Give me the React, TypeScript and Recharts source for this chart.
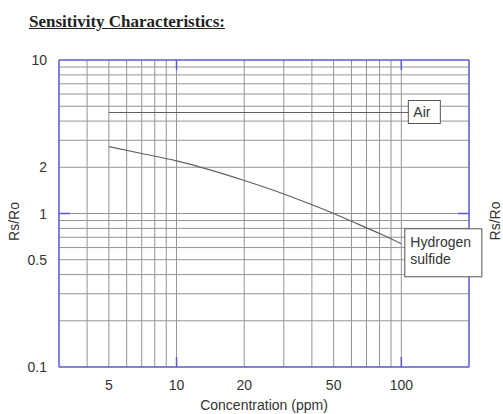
import { LineChart, Line, XAxis, YAxis, ReferenceLine, ReferenceDot } from 'recharts';

// concentration (ppm) / Rs/Ro
const AIR_X = [5, 100];
const AIR_Y = [4.55, 4.55];
const H2S_X = [5, 7, 10, 20, 30, 40, 50, 60, 80, 100];
const H2S_Y = [2.73, 2.46, 2.2, 1.64, 1.34, 1.14, 1.0, 0.89, 0.74, 0.635];

const X_TICKS = [5, 10, 20, 50, 100];
const Y_TICKS = [0.1, 0.5, 1, 2, 10];
const X_MARKS = [10, 100];
const Y_MARKS = [1];
const X_GRID = [4, 5, 6, 7, 8, 9, 10, 20, 30, 40, 50, 60, 70, 80, 90, 100];
const Y_GRID = [0.2, 0.3, 0.4, 0.5, 0.6, 0.7, 0.8, 0.9, 1, 2, 3, 4, 5, 6, 7, 8, 9];

const airData = AIR_X.map((x, i) => ({ x, y: AIR_Y[i] }));
const h2sData = H2S_X.map((x, i) => ({ x, y: H2S_Y[i] }));

const BLUE = '#5a5ad2';
const GRID = '#949494';
const CURVE = '#606060';
const TEXT = '#333';
const FONT = '"Liberation Sans", Arial, sans-serif';

const BottomTick = (p: any) => {
  const v = p.payload.value;
  return (
    <g>
      {X_MARKS.includes(v) && <line x1={p.x} x2={p.x} y1={p.y} y2={p.y - 10} stroke={BLUE} strokeWidth={1.5} />}
      <text x={p.x} y={p.y + 23} textAnchor="middle" fontSize={14} fill={TEXT} fontFamily={FONT}>{v}</text>
    </g>
  );
};

const TopTick = (p: any) => (
  <line x1={p.x} x2={p.x} y1={p.y} y2={p.y + 10} stroke={BLUE} strokeWidth={1.5} />
);

const LeftTick = (p: any) => {
  const v = p.payload.value;
  return (
    <g>
      {Y_MARKS.includes(v) && <line x1={p.x} x2={p.x + 11} y1={p.y} y2={p.y} stroke={BLUE} strokeWidth={1.5} />}
      <text x={p.x - 12} y={p.y + 5} textAnchor="end" fontSize={14} fill={TEXT} fontFamily={FONT}>{v}</text>
    </g>
  );
};

const RightTick = (p: any) => (
  <line x1={p.x} x2={p.x - 11} y1={p.y} y2={p.y} stroke={BLUE} strokeWidth={1.5} />
);

const AirBox = (p: any) => (
  <g>
    <line x1={p.cx} x2={p.cx + 7} y1={p.cy} y2={p.cy} stroke={CURVE} />
    <rect x={p.cx + 7} y={p.cy - 12} width={32} height={23} fill="#fff" stroke="#555" />
    <text x={p.cx + 12} y={p.cy + 5} fontSize={14} fill={TEXT} fontFamily={FONT}>Air</text>
  </g>
);

const H2sBox = (p: any) => (
  <g>
    <rect x={p.cx + 3.5} y={p.cy - 15} width={77} height={48} fill="#fff" stroke="#555" />
    <text x={p.cx + 9} y={p.cy + 3.5} fontSize={14} fill={TEXT} fontFamily={FONT}>Hydrogen</text>
    <text x={p.cx + 9} y={p.cy + 20.5} fontSize={14} fill={TEXT} fontFamily={FONT}>sulfide</text>
  </g>
);

export default function App() {
  const last = h2sData.length - 1;
  return (
    <div style={{ position: 'absolute', left: 0, top: 0, width: 503, height: 414, background: '#fff' }}>
      <div
        style={{
          position: 'absolute', left: 29, top: 12.5, fontFamily: '"Liberation Serif", "Times New Roman", serif',
          fontWeight: 'bold', fontSize: 17, lineHeight: '17px', color: '#222', textDecoration: 'underline',
        }}
      >
        Sensitivity Characteristics:
      </div>
      <svg width={503} height={414} style={{ position: 'absolute', left: 0, top: 0, pointerEvents: 'none' }}>
        <text
          x={500} y={221} transform="rotate(-90 500 221)" textAnchor="middle"
          fontSize={14} fill={TEXT} fontFamily={FONT}
        >Rs/Ro</text>
      </svg>
      <div style={{ position: 'absolute', left: 0, top: 0 }}>
        <LineChart width={503} height={414} margin={{ top: 30, right: 0, bottom: 0, left: 0 }}>
          <XAxis
            xAxisId="b" dataKey="x" type="number" scale="log" domain={[3, 200]} allowDataOverflow
            ticks={X_TICKS} tick={BottomTick} tickLine={false} tickSize={0} tickMargin={0} height={47}
            axisLine={{ stroke: BLUE, strokeWidth: 1.5 }}
            label={(props: any) => {
              const vb = props.viewBox || { x: 59, y: 367, width: 410 };
              return (
                <text x={vb.x + vb.width / 2} y={vb.y + 43} textAnchor="middle" fontSize={14} fill={TEXT} fontFamily={FONT}>
                  Concentration (ppm)
                </text>
              );
            }}
          />
          <XAxis
            xAxisId="t" orientation="top" dataKey="x" type="number" scale="log" domain={[3, 200]} allowDataOverflow
            ticks={X_MARKS} tick={TopTick} tickLine={false} tickSize={0} tickMargin={0} height={30}
            axisLine={{ stroke: BLUE, strokeWidth: 1.5 }}
          />
          <YAxis
            yAxisId="l" type="number" scale="log" domain={[0.1, 10]} allowDataOverflow
            ticks={Y_TICKS} tick={LeftTick} tickLine={false} tickSize={0} tickMargin={0} width={59}
            axisLine={{ stroke: BLUE, strokeWidth: 1.5 }}
            label={(props: any) => {
              const vb = props.viewBox || { x: 0, y: 60, height: 307 };
              const cy = vb.y + vb.height / 2 + 8;
              return (
                <text x={19} y={cy} transform={`rotate(-90 19 ${cy})`} textAnchor="middle" fontSize={14} fill={TEXT} fontFamily={FONT}>
                  Rs/Ro
                </text>
              );
            }}
          />
          <YAxis
            yAxisId="r" orientation="right" type="number" scale="log" domain={[0.1, 10]} allowDataOverflow
            ticks={Y_MARKS} tick={RightTick} tickLine={false} tickSize={0} tickMargin={0} width={34}
            axisLine={{ stroke: BLUE, strokeWidth: 1.5 }}
          />
          {X_GRID.map((v) => (
            <ReferenceLine key={'gx' + v} xAxisId="b" yAxisId="l" x={v} stroke={GRID} strokeWidth={1} />
          ))}
          {Y_GRID.map((v) => (
            <ReferenceLine key={'gy' + v} xAxisId="b" yAxisId="l" y={v} stroke={GRID} strokeWidth={1} />
          ))}
          <Line
            xAxisId="b" yAxisId="l" data={airData} dataKey="y" type="linear"
            stroke={CURVE} strokeWidth={1.2} dot={false} isAnimationActive={false}
          />
          <Line
            xAxisId="b" yAxisId="l" data={h2sData} dataKey="y" type="monotone"
            stroke={CURVE} strokeWidth={1.2} dot={false} isAnimationActive={false}
          />
          <ReferenceDot xAxisId="b" yAxisId="l" x={AIR_X[1]} y={AIR_Y[1]} ifOverflow="visible" shape={AirBox} />
          <ReferenceDot xAxisId="b" yAxisId="l" x={H2S_X[last]} y={H2S_Y[last]} ifOverflow="visible" shape={H2sBox} />
        </LineChart>
      </div>
    </div>
  );
}
